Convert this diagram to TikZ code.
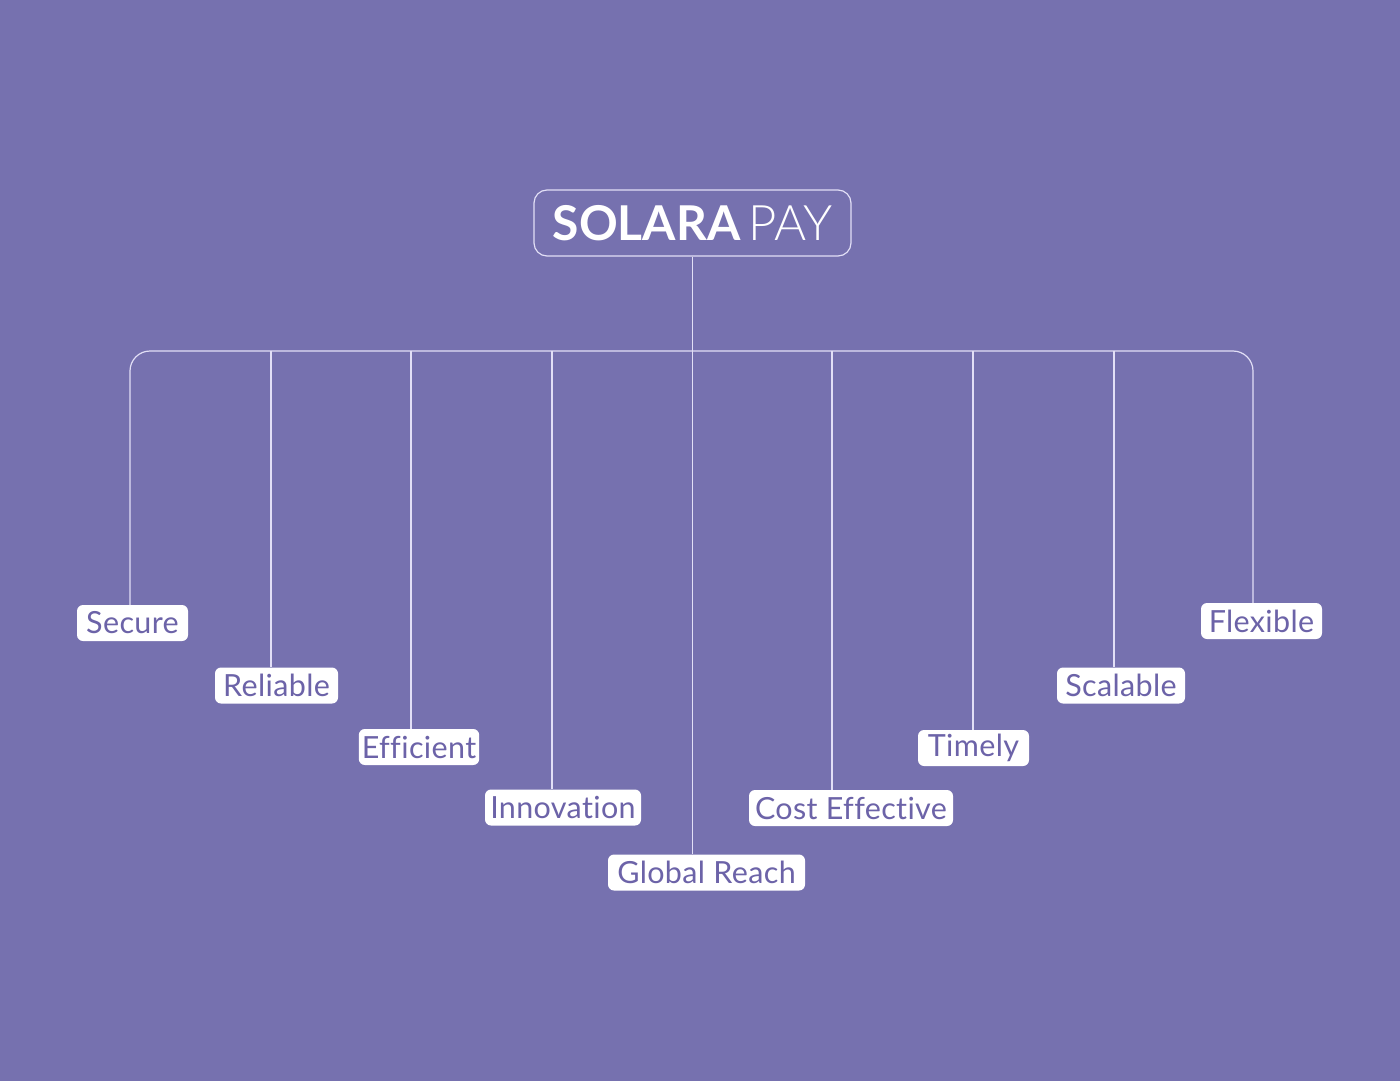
\documentclass[tikz,border=0pt]{standalone}
\usepackage{fontspec}
\setmainfont{Lato}[Ligatures={NoCommon,NoRare,NoDiscretionary}]
\newfontfamily\lightfont{Lato Light}
\newfontfamily\lblfont{Lato}[Ligatures={NoCommon,NoRare,NoDiscretionary},LetterSpace=1.2]
\definecolor{bg}{RGB}{118,113,175}
\definecolor{ink}{RGB}{108,99,168}
\definecolor{wire}{RGB}{226,223,246}
\begin{document}
\begin{tikzpicture}[x=1pt,y=-1pt,
  conn/.style={draw=wire,line width=1.2pt},
  lbl/.style={fill=white,rounded corners=6pt,text=ink,inner xsep=3pt,inner ysep=0pt,
    minimum height=36pt,font=\lblfont\fontsize{30.5}{30.5}\selectfont},
  titlebox/.style={draw=wire,line width=1.2pt,rounded corners=13pt,minimum width=317pt,
    minimum height=66pt,text=white,inner sep=0pt}]
\fill[bg] (0,0) rectangle (1400,1081);
\useasboundingbox (0,0) rectangle (1400,1081);
\node[titlebox] (title) at (692.5,223) {\fontsize{48}{48}\selectfont\bfseries SOLARA\hspace{8pt}{\lightfont\mdseries\fontsize{49}{49}\selectfont PAY}};
\node[lbl,minimum width=111pt] (secure) at (132.5,623) {Secure};
\node[lbl,minimum width=123pt] (reliable) at (276.5,685.5) {Reliable};
\node[lbl,minimum width=118pt] (efficient) at (419,747) {Efficient};
\node[lbl,minimum width=156pt] (innovation) at (563,807.5) {Innovation};
\node[lbl,minimum width=197pt] (global) at (706.5,872.5) {Global Reach};
\node[lbl,minimum width=204pt] (cost) at (851,808) {Cost Effective};
\node[lbl,minimum width=111pt] (timely) at (973.5,748) {Timely};
\node[lbl,minimum width=128pt] (scalable) at (1121,685.5) {Scalable};
\node[lbl,minimum width=121pt] (flexible) at (1261.5,621) {Flexible};
\coordinate (tS) at (130,351);
\coordinate (tR) at (271,351);
\coordinate (tE) at (411,351);
\coordinate (tI) at (552,351);
\coordinate (tC) at (832,351);
\coordinate (tT) at (973,351);
\coordinate (tSc) at (1114,351);
\coordinate (tF) at (1253,351);
\draw[conn,rounded corners=20pt] (tS |- secure.north) -- (tS) -- (tF) -- (tF |- flexible.north);
\draw[conn] (title.south) -- (title.south |- global.north);
\draw[conn] (tR) -- (tR |- reliable.north);
\draw[conn] (tE) -- (tE |- efficient.north);
\draw[conn] (tI) -- (tI |- innovation.north);
\draw[conn] (tC) -- (tC |- cost.north);
\draw[conn] (tT) -- (tT |- timely.north);
\draw[conn] (tSc) -- (tSc |- scalable.north);
\end{tikzpicture}
\end{document}
